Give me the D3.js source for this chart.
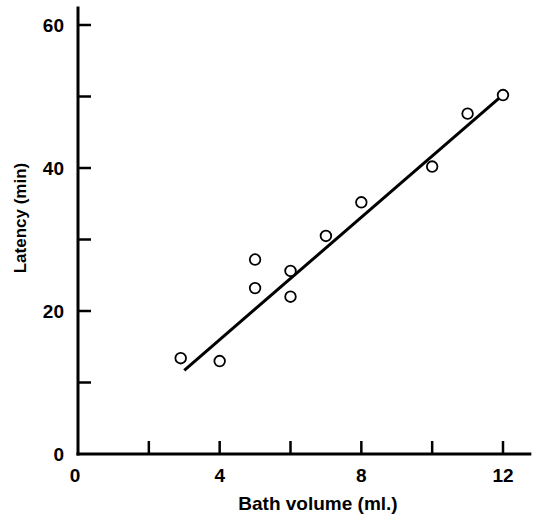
<!DOCTYPE html>
<html>
<head>
<meta charset="utf-8">
<script src="https://cdn.jsdelivr.net/npm/d3@7"></script>
<style>
  body { margin: 0; background: #fff; }
  svg text { font-family: "Liberation Sans", Arial, sans-serif; fill: #000; }
</style>
</head>
<body>
<svg id="chart" width="534" height="516"></svg>
<script>
// Bath volume (ml.) vs latency (min)
const bathVolume = [2.9, 4, 5, 5, 6, 6, 7, 8, 10, 11, 12];
const latency = [13.4, 13.0, 27.2, 23.2, 25.6, 22.0, 30.5, 35.2, 40.2, 47.6, 50.2];

// fitted line end points
const fitX = [3, 11.9];
const fitY = [11.7, 49.8];

const xTicks = [2, 4, 6, 8, 10, 12];
const xTickLabels = ["0", "4", "8", "12"];
const yTicks = [10, 20, 30, 40, 50, 60];
const yTickLabels = ["0", "20", "40", "60"];

const svg = d3.select("#chart");

const x = d3.scaleLinear().domain([0, 12]).range([78, 503]);
const y = d3.scaleLinear().domain([0, 60]).range([454, 25]);

const fontSize = "19px";

// y axis line
svg.append("line")
  .attr("x1", x(0)).attr("x2", x(0))
  .attr("y1", y(62.6)).attr("y2", y(0) + 1.5)
  .attr("stroke", "#000").attr("stroke-width", 3);

// x axis line
svg.append("line")
  .attr("x1", x(0) - 1.5).attr("x2", x(12.8))
  .attr("y1", y(0)).attr("y2", y(0))
  .attr("stroke", "#000").attr("stroke-width", 3);

// ticks pointing inward
svg.selectAll(".ytick")
  .data(yTicks)
  .enter()
  .append("line")
  .attr("class", "ytick")
  .attr("x1", x(0)).attr("x2", x(0) + 13)
  .attr("y1", (d) => y(d)).attr("y2", (d) => y(d))
  .attr("stroke", "#000").attr("stroke-width", 2.5);

svg.selectAll(".xtick")
  .data(xTicks)
  .enter()
  .append("line")
  .attr("class", "xtick")
  .attr("x1", (d) => x(d)).attr("x2", (d) => x(d))
  .attr("y1", y(0)).attr("y2", y(0) - 13)
  .attr("stroke", "#000").attr("stroke-width", 2.5);

// tick labels
svg.selectAll(".ylabel")
  .data(yTickLabels)
  .enter()
  .append("text")
  .attr("class", "ylabel")
  .attr("x", 64)
  .attr("y", (d) => y(+d) + 7)
  .attr("text-anchor", "end")
  .style("font-size", fontSize)
  .style("font-weight", "bold")
  .text((d) => d);

svg.selectAll(".xlabel")
  .data(xTickLabels)
  .enter()
  .append("text")
  .attr("class", "xlabel")
  .attr("x", (d) => x(+d) - (d === "0" ? 3 : 0))
  .attr("y", 482)
  .attr("text-anchor", "middle")
  .style("font-size", fontSize)
  .style("font-weight", "bold")
  .text((d) => d);

// axis titles
svg.append("text")
  .attr("x", 318)
  .attr("y", 510)
  .attr("text-anchor", "middle")
  .style("font-size", fontSize)
  .style("font-weight", "bold")
  .text("Bath volume (ml.)");

svg.append("text")
  .attr("transform", "translate(26, 218) rotate(-90)")
  .attr("text-anchor", "middle")
  .style("font-size", "17px")
  .style("font-weight", "bold")
  .text("Latency (min)");

// fitted line
svg.append("line")
  .attr("x1", x(fitX[0])).attr("y1", y(fitY[0]))
  .attr("x2", x(fitX[1])).attr("y2", y(fitY[1]))
  .attr("stroke", "#000").attr("stroke-width", 3);

// data points
svg.selectAll(".pt")
  .data(bathVolume.map((v, i) => ({ v, l: latency[i] })))
  .enter()
  .append("circle")
  .attr("class", "pt")
  .attr("cx", (d) => x(d.v))
  .attr("cy", (d) => y(d.l))
  .attr("r", 5.3)
  .attr("fill", "#fff")
  .attr("stroke", "#000")
  .attr("stroke-width", 1.8);
</script>
</body>
</html>
